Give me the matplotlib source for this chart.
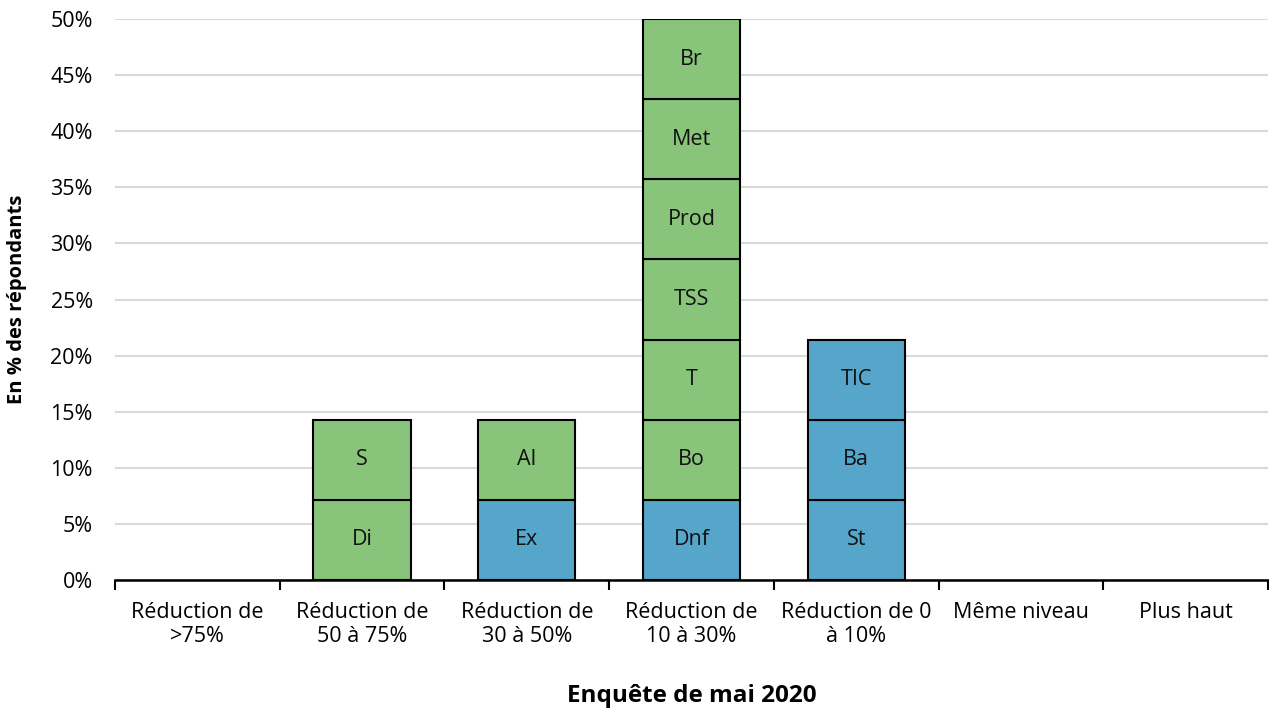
import matplotlib
matplotlib.use("Agg")
import matplotlib.pyplot as plt
import numpy as np

categories = ["Réduction de\n>75%", "Réduction de\n50 à 75%", "Réduction de\n30 à 50%",
              "Réduction de\n10 à 30%", "Réduction de 0\nà 10%", "Même niveau", "Plus haut"]
# segments from bottom to top for each category
segment_labels = [
    [],
    ["Di", "S"],
    ["Ex", "Al"],
    ["Dnf", "Bo", "T", "TSS", "Prod", "Met", "Br"],
    ["St", "Ba", "TIC"],
    [],
    [],
]
segment_groups = [
    [],
    ["g", "g"],
    ["b", "g"],
    ["b", "g", "g", "g", "g", "g", "g"],
    ["b", "b", "b"],
    [],
    [],
]
segment_value = 100 / 14  # each respondent share in %
yticks = [0, 5, 10, 15, 20, 25, 30, 35, 40, 45, 50]

colors = {"g": "#88C57A", "b": "#56A6CB"}
plt.rcParams['font.family'] = ['Open Sans', 'DejaVu Sans']

fig = plt.figure(figsize=(12.69, 7.08), dpi=100)
ax = fig.add_axes([115/1269, 1 - 580/708, 1 - 115/1269 - 1/1269, (580 - 19)/708])

x = np.arange(len(categories))
for i, (labs, grps) in enumerate(zip(segment_labels, segment_groups)):
    bottom = 0.0
    for lab, g in zip(labs, grps):
        ax.bar(x[i], segment_value, bottom=bottom, width=0.59, color=colors[g],
               edgecolor="black", linewidth=1.5, zorder=3)
        ax.text(x[i], bottom + segment_value / 2, lab, ha="center", va="center",
                fontsize=15.5, color="#111111", zorder=4)
        bottom += segment_value

ax.set_xlim(-0.5, len(categories) - 0.5)
ax.set_ylim(0, 50)
ax.set_yticks(yticks)
ax.set_yticklabels([f"{v}%" for v in yticks], fontsize=15.5)
ax.yaxis.grid(True, color="#d9d9d9", linewidth=1.5, zorder=0)
ax.set_axisbelow(True)
ax.tick_params(axis="y", length=0, pad=16)
ax.set_xticks(x)
ax.set_xticklabels(categories, fontsize=15.5, linespacing=1.2)
ax.set_xticks(np.arange(-0.5, len(categories), 1.0), minor=True)
ax.tick_params(axis="x", which="major", length=0, pad=16)
ax.tick_params(axis="x", which="minor", length=7, width=1.5, direction="out")
for s in ["top", "right", "left"]:
    ax.spines[s].set_visible(False)
ax.spines["bottom"].set_linewidth(1.8)
ax.spines["bottom"].set_zorder(5)

ax.set_ylabel("En % des répondants", fontsize=14.5, fontweight="bold")
ax.yaxis.set_label_coords(-88/1154, 0.5)
ax.set_xlabel("Enquête de mai 2020", fontsize=17.5, fontweight="bold", labelpad=26)

fig.savefig("out.png", dpi=100)
